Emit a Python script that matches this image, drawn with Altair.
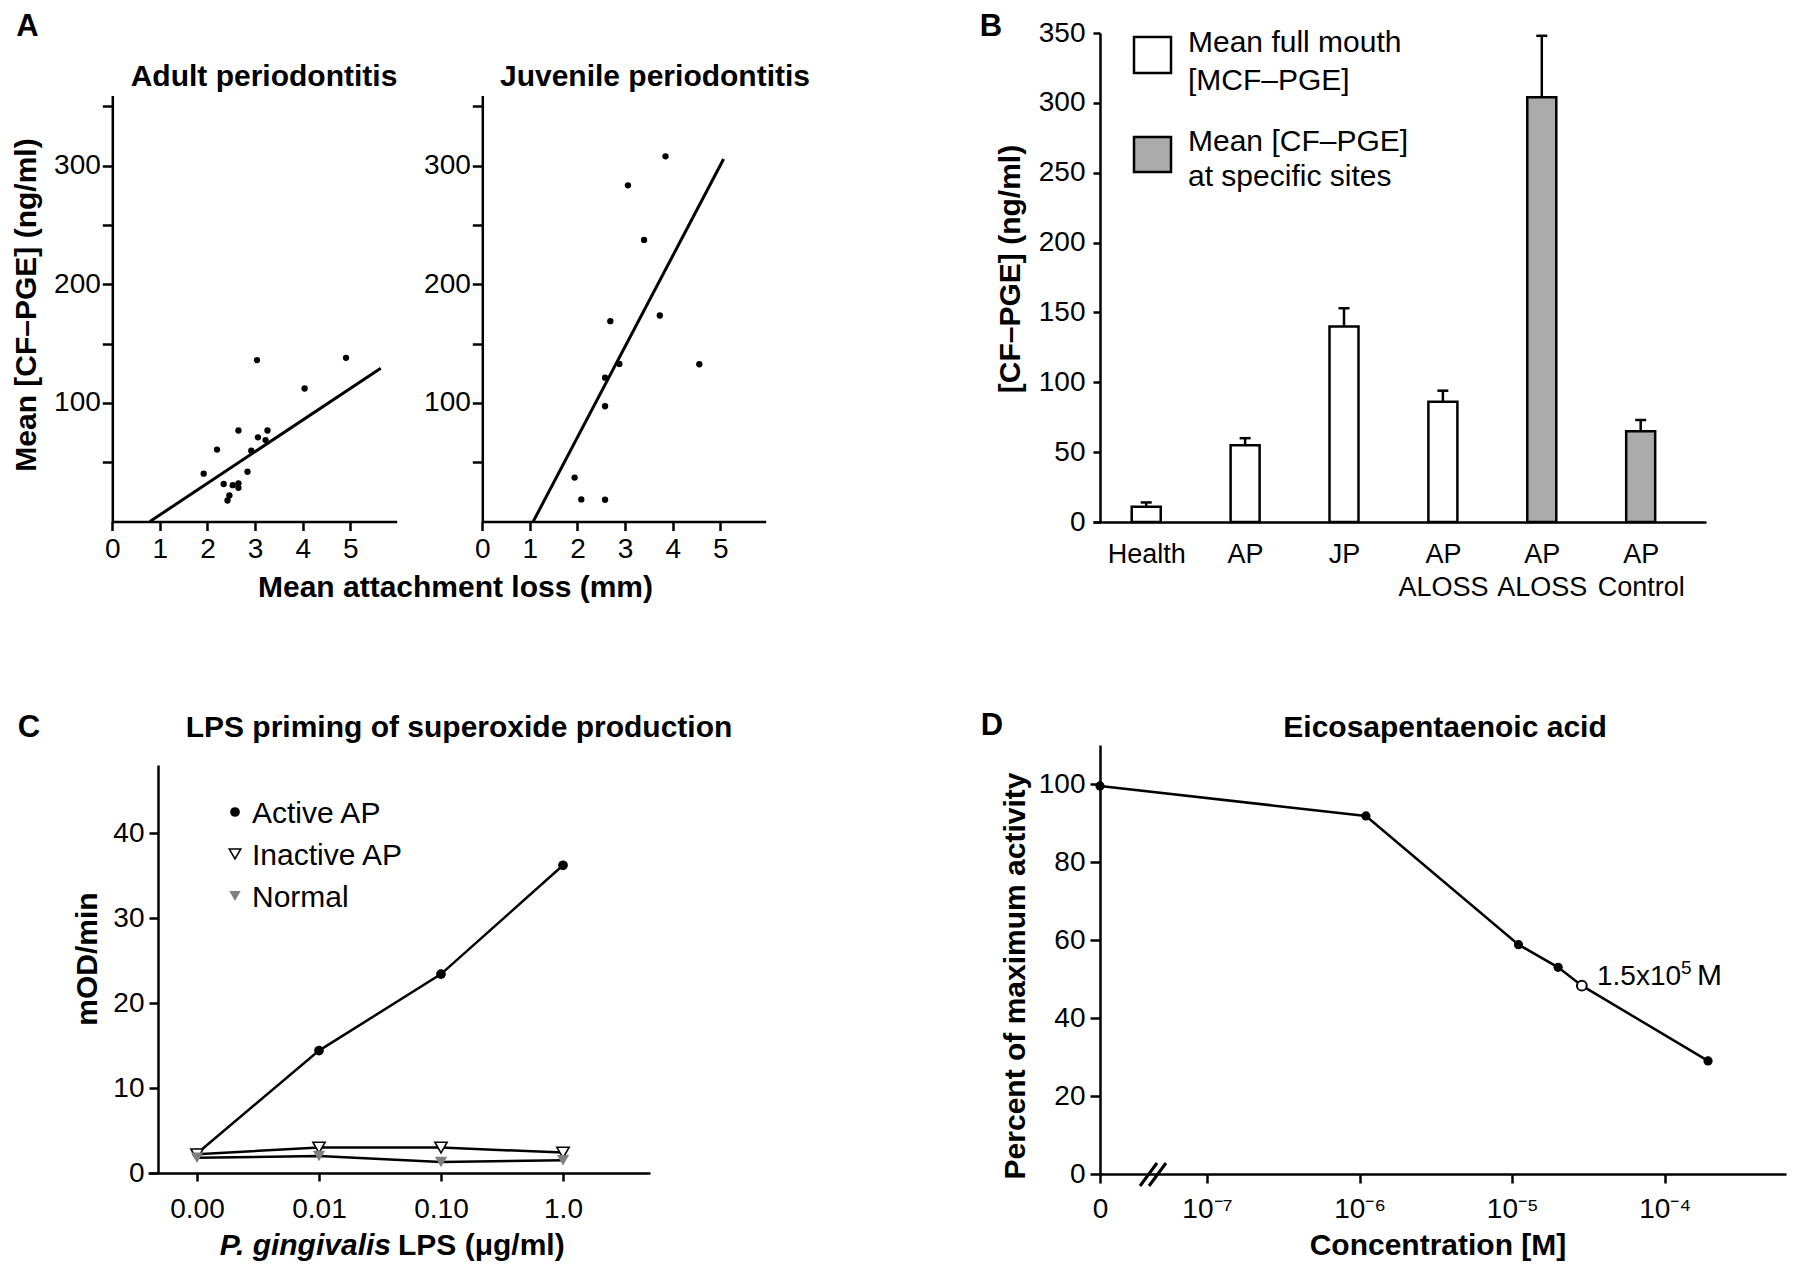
import json
import math
import altair as alt
import pandas as pd

FONT = "Liberation Sans, Arial, Helvetica, sans-serif"
W, H = 1784, 1254


def PX(v):
    return v - 8


def PY(v):
    return v - 10


# ---------------- Panel A data ----------------
adult_loss = [3.04, 4.91, 4.04, 2.65, 3.06, 3.26, 3.22, 2.20, 2.92, 1.92, 2.84, 2.34, 2.53, 2.65, 2.65, 2.46, 2.42]
adult_pge = [136.0, 137.9, 112.1, 76.7, 70.9, 76.7, 68.6, 60.6, 59.6, 40.3, 41.9, 31.6, 30.6, 32.2, 28.4, 21.9, 17.7]
adult_fit_loss = [0.79, 5.64]
adult_fit_pge = [0.0, 129.2]
juv_loss = [3.85, 3.06, 3.40, 2.69, 3.73, 2.88, 4.56, 2.58, 2.58, 1.94, 2.08, 2.58]
juv_pge = [307.7, 283.3, 237.3, 168.8, 173.6, 132.8, 132.5, 121.2, 97.1, 37.0, 18.6, 18.3]
juv_fit_loss = [1.07, 5.07]
juv_fit_pge = [0.0, 305.5]
loss_ticks = [0, 1, 2, 3, 4, 5]
pge_ticks_a = [50, 100, 150, 200, 250, 300, 350]

# ---------------- Panel B data ----------------
groups_b = ["Health", "AP", "JP", "AP\nALOSS", "AP\nALOSS", "AP\nControl"]
means_b = [11, 55, 140, 86, 304, 65]
upper_b = [14, 60, 153, 94, 348, 73]
kind_b = ["full", "full", "full", "full", "site", "site"]
pge_ticks_b = [0, 50, 100, 150, 200, 250, 300, 350]

# ---------------- Panel C data ----------------
doses = ["0.00", "0.01", "0.10", "1.0"]
active_ap = [2.3, 14.4, 23.4, 36.2]
inactive_ap = [2.2, 3.0, 3.0, 2.4]
normal = [1.8, 2.0, 1.3, 1.5]
mod_ticks = [0, 10, 20, 30, 40]

# ---------------- Panel D data ----------------
conc = [0, 1.1e-6, 1.1e-5, 2.0e-5, 2.86e-5, 1.92e-4]
activity = [99.5, 91.8, 58.8, 53.0, 48.3, 29.0]
is_ic50 = [False, False, False, False, True, False]
exp_ticks = [-7, -6, -5, -4]
pct_ticks = [0, 20, 40, 60, 80, 100]


def axis(orient, offset, values, tick=9, pad=3, **kw):
    return alt.Axis(orient=orient, offset=offset, values=values, title=None, grid=False,
                    tickSize=tick, labelPadding=pad, labelFlush=False, labelOverlap=False, **kw)


def txt(s, x, y, size=30, weight="bold", angle=0, align="center", baseline="middle", style="normal"):
    return alt.Chart(alt.Data(values=[{"k": 0}])).mark_text(
        text=s, font=FONT, fontSize=size, fontWeight=weight, angle=angle, align=align,
        baseline=baseline, fontStyle=style, color="black"
    ).encode(x=alt.value(PX(x)), y=alt.value(PY(y)))


# ---------------- Panel A ----------------
def scatter_panel(loss, pge, fitx, fity, x0, x1, xmax):
    xs = alt.Scale(domain=[0, xmax], range=[PX(x0), PX(x1)], nice=False, zero=False)
    ys = alt.Scale(domain=[0, 359], range=[PY(523.5), PY(97.5)], nice=False, zero=False)
    xa = axis("bottom", PY(523.5) - H, loss_ticks, tick=9, pad=5)
    ya = axis("left", -PX(x0), pge_ticks_a, tick=10, pad=2,
              labelExpr="datum.value % 100 == 0 ? datum.label : ''")
    X = alt.X("loss:Q", scale=xs, axis=xa)
    Y = alt.Y("pge:Q", scale=ys, axis=ya)
    pts = pd.DataFrame({"loss": loss, "pge": pge})
    fit = pd.DataFrame({"loss": fitx, "pge": fity})
    return alt.layer(
        alt.Chart(fit).mark_line(color="black", strokeWidth=3).encode(x=X, y=Y),
        alt.Chart(pts).mark_circle(color="black", size=40, opacity=1).encode(x=X, y=Y),
    )


panel_a1 = scatter_panel(adult_loss, adult_pge, adult_fit_loss, adult_fit_pge, 112.3, 396.7, 5.975)
panel_a2 = scatter_panel(juv_loss, juv_pge, juv_fit_loss, juv_fit_pge, 482.3, 765.7, 5.955)

# ---------------- Panel B ----------------
df_b = pd.DataFrame({"i": list(range(len(groups_b))), "mean": means_b, "upper": upper_b, "kind": kind_b})
lab_b = json.dumps([g.split("\n") if "\n" in g else g for g in groups_b]) + "[round(datum.value)]"
xsB = alt.Scale(domain=[-0.4876, 5.61], range=[PX(1093), PX(1706)], nice=False, zero=False)
ysB = alt.Scale(domain=[0, 350], range=[PY(524), PY(35)], nice=False, zero=False)
xaB = axis("bottom", PY(524) - H, list(range(len(groups_b))), tick=0, pad=19, ticks=False,
           labelExpr=lab_b, labelFontSize=27, labelLineHeight=33)
yaB = axis("left", -PX(1100), pge_ticks_b, tick=7, pad=8)
XB = alt.X("i:Q", scale=xsB, axis=xaB)

bars = alt.Chart(df_b).mark_bar(width=29, stroke="black", strokeWidth=2.5).encode(
    x=XB,
    y=alt.Y("mean:Q", scale=ysB, axis=yaB),
    fill=alt.Fill("kind:N", scale=alt.Scale(domain=["full", "site"], range=["white", "#ababab"]), legend=None),
)
err = alt.Chart(df_b).mark_rule(color="black", strokeWidth=2.5).encode(
    x=XB, y=alt.Y("mean:Q", scale=ysB, axis=yaB), y2="upper:Q"
)
caps = alt.Chart(df_b).mark_tick(orient="horizontal", size=11, thickness=2.5, color="black", opacity=1).encode(
    x=XB, y=alt.Y("upper:Q", scale=ysB, axis=yaB)
)
panel_b = alt.layer(err, bars, caps)


def box(x0, x1, y0, y1, fill):
    return alt.Chart(alt.Data(values=[{"k": 0}])).mark_rect(fill=fill, stroke="black", strokeWidth=2.5).encode(
        x=alt.value(PX(x0)), x2=alt.value(PX(x1)), y=alt.value(PY(y0)), y2=alt.value(PY(y1))
    )


legend_b = alt.layer(
    box(1134, 1171, 39, 75, "white"),
    box(1134, 1171, 139, 174, "#ababab"),
    txt("Mean full mouth", 1188, 45, weight="normal", align="left"),
    txt("[MCF\u2013PGE]", 1188, 83, weight="normal", align="left"),
    txt("Mean [CF\u2013PGE]", 1188, 144, weight="normal", align="left"),
    txt("at specific sites", 1188, 179, weight="normal", align="left"),
)

# ---------------- Panel C ----------------
rows = []
for g, vals in [("Active AP", active_ap), ("Inactive AP", inactive_ap), ("Normal", normal)]:
    for i, v in enumerate(vals):
        rows.append({"group": g, "i": i, "v": v})
df_c = pd.DataFrame(rows)
xsC = alt.Scale(domain=[-0.4016, 3.713], range=[PX(148), PX(650)], nice=False, zero=False)
ysC = alt.Scale(domain=[0, 48], range=[PY(1175), PY(767)], nice=False, zero=False)
xaC = axis("bottom", PY(1175) - H, list(range(len(doses))), tick=8, pad=14,
           labelExpr=json.dumps(doses) + "[round(datum.value)]")
yaC = axis("left", -PX(158), mod_ticks, tick=9, pad=5)
XC = alt.X("i:Q", scale=xsC, axis=xaC)
YC = alt.Y("v:Q", scale=ysC, axis=yaC)
c_lines = alt.Chart(df_c).mark_line(color="black", strokeWidth=2.5).encode(x=XC, y=YC, detail="group:N")
c_act = alt.Chart(df_c[df_c.group == "Active AP"]).mark_point(
    shape="circle", filled=True, color="black", size=95, opacity=1).encode(x=XC, y=YC)
c_inact = alt.Chart(df_c[df_c.group == "Inactive AP"]).mark_point(
    shape="triangle-down", filled=True, fill="white", stroke="black", strokeWidth=1.6, size=150, opacity=1
).encode(x=XC, y=YC)
c_norm = alt.Chart(df_c[df_c.group == "Normal"]).mark_point(
    shape="triangle-down", filled=True, fill="#808080", strokeWidth=0, size=150, opacity=1
).encode(x=XC, y=YC)
panel_c = alt.layer(c_lines, c_act, c_inact, c_norm)


def sym(x, y, **kw):
    return alt.Chart(alt.Data(values=[{"k": 0}])).mark_point(filled=True, opacity=1, **kw).encode(
        x=alt.value(PX(x)), y=alt.value(PY(y)))


legend_c = alt.layer(
    sym(235, 814, shape="circle", color="black", size=95),
    sym(235, 856, shape="triangle-down", fill="white", stroke="black", strokeWidth=1.6, size=130),
    sym(235, 898, shape="triangle-down", fill="#808080", strokeWidth=0, size=130),
    txt("Active AP", 252, 816, weight="normal", align="left"),
    txt("Inactive AP", 252, 858, weight="normal", align="left"),
    txt("Normal", 252, 900, weight="normal", align="left"),
)

# ---------------- Panel D ----------------
ZERO_POS = -7 - (1207 - 1100) / 152.6  # position of the "0" concentration before the axis break
X_END = -7 + (1786 - 1207) / 152.6
pos_d = [ZERO_POS if c == 0 else math.log10(c) for c in conc]
df_d = pd.DataFrame({"pos": pos_d, "act": activity, "ic50": is_ic50})
SUP = {"-": "\u207b", "0": "\u2070", "1": "\u00b9", "2": "\u00b2", "3": "\u00b3", "4": "\u2074",
       "5": "\u2075", "6": "\u2076", "7": "\u2077", "8": "\u2078", "9": "\u2079"}
lab_d = "datum.value < %.3f ? '0'" % (ZERO_POS + 0.3)
for e in exp_ticks:
    lab_d += " : abs(datum.value - (%d)) < 0.01 ? '10%s'" % (e, "".join(SUP[ch] for ch in str(e)))
lab_d += " : ''"
xsD = alt.Scale(domain=[ZERO_POS, X_END], range=[PX(1100), PX(1786)], nice=False, zero=False)
ysD = alt.Scale(domain=[0, 110], range=[PY(1176), PY(747)], nice=False, zero=False)
xaD = axis("bottom", PY(1176) - H, [ZERO_POS] + exp_ticks, tick=9, pad=12, labelExpr=lab_d)
yaD = axis("left", -PX(1100), pct_ticks, tick=10, pad=5)
XD = alt.X("pos:Q", scale=xsD, axis=xaD)
YD = alt.Y("act:Q", scale=ysD, axis=yaD)
d_line = alt.Chart(df_d).mark_line(color="black", strokeWidth=2.5).encode(x=XD, y=YD)
d_pts = alt.Chart(df_d[~df_d.ic50]).mark_point(shape="circle", filled=True, color="black", size=85,
                                                opacity=1).encode(x=XD, y=YD)
d_open = alt.Chart(df_d[df_d.ic50]).mark_point(shape="circle", filled=True, fill="white", stroke="black",
                                               strokeWidth=2, size=95, opacity=1).encode(x=XD, y=YD)
panel_d = alt.layer(d_line, d_pts, d_open)


def slash(x0, y0, x1, y1):
    return alt.Chart(alt.Data(values=[{"k": 0}])).mark_rule(color="black", strokeWidth=3).encode(
        x=alt.value(PX(x0)), y=alt.value(PY(y0)), x2=alt.value(PX(x1)), y2=alt.value(PY(y1)))


decor_d = alt.layer(
    slash(1140, 1188, 1157, 1165),
    slash(1149, 1188, 1166, 1165),
    txt("1.5x10", 1597, 987, size=28, weight="normal", align="left", baseline="alphabetic"),
    txt("5", 1681, 976, size=19, weight="normal", align="left", baseline="alphabetic"),
    txt("M", 1697, 987, size=30, weight="normal", align="left", baseline="alphabetic"),
)

# ---------------- Titles and labels ----------------
texts = alt.layer(
    txt("A", 27.5, 29, size=31),
    txt("B", 991, 29, size=31),
    txt("C", 29, 730, size=31),
    txt("D", 992, 728, size=31),
    txt("Adult periodontitis", 264, 79),
    txt("Juvenile periodontitis", 655, 79),
    txt("Mean [CF\u2013PGE] (ng/ml)", 27, 307, angle=270),
    txt("Mean attachment loss (mm)", 455.5, 590),
    txt("[CF\u2013PGE] (ng/ml)", 1011, 271, angle=270),
    txt("LPS priming of superoxide production", 459, 730),
    txt("mOD/min", 88, 961, angle=270),
    txt("P. gingivalis", 391, 1257, align="right", baseline="alphabetic", style="italic"),
    txt("LPS (\u03bcg/ml)", 398, 1257, align="left", baseline="alphabetic"),
    txt("Eicosapentaenoic acid", 1445, 730),
    txt("Percent of maximum activity", 1016, 978, angle=270),
    txt("Concentration [M]", 1438, 1257, baseline="alphabetic"),
)

chart = alt.layer(
    panel_a1, panel_a2, panel_b, legend_b, panel_c, legend_c, panel_d, decor_d, texts
).resolve_scale(
    x="independent", y="independent"
).properties(
    width=W, height=H, padding=0, autosize=alt.AutoSizeParams(type="none")
).configure_view(
    stroke=None
).configure_axis(
    domainColor="black", domainWidth=2.5, tickColor="black", tickWidth=2.5,
    labelColor="black", labelFont=FONT, labelFontSize=28, grid=False
)

chart.save("out.html", embed_options={"renderer": "svg", "actions": False})
